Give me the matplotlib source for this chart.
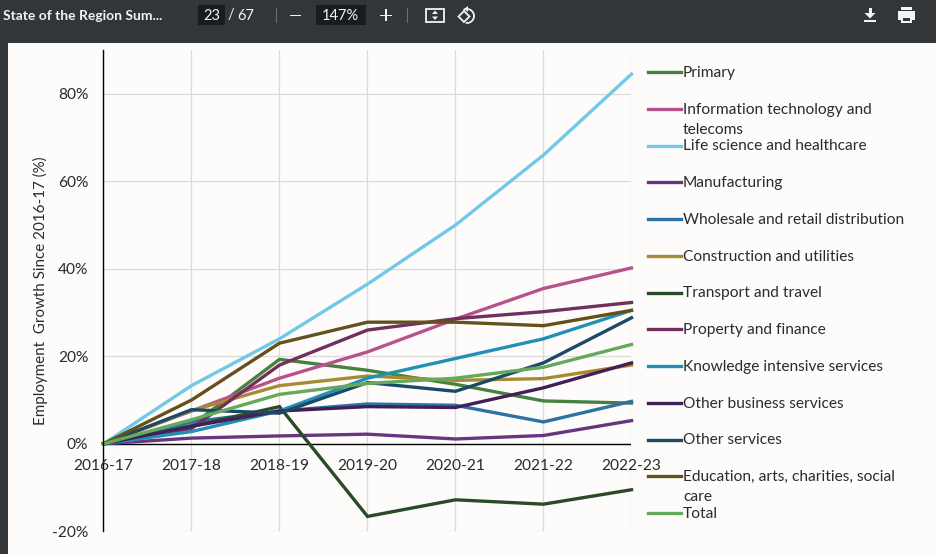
import matplotlib
matplotlib.use("Agg")
import matplotlib.pyplot as plt
from matplotlib.lines import Line2D
from matplotlib.patches import Rectangle, Arc, Polygon
from matplotlib.transforms import Affine2D

W, H = 937, 554
plt.rcParams['font.family'] = ['Lato', 'DejaVu Sans']

years = ['2016-17', '2017-18', '2018-19', '2019-20', '2020-21', '2021-22', '2022-23']
yticks = [-20, 0, 20, 40, 60, 80]

primary = [0, 4.2, 19.3, 16.8, 13.6, 9.8, 9.3]
it_telecoms = [0, 7.5, 15, 21, 28.5, 35.5, 40.2]
life_science = [0, 13.3, 24, 36.5, 50, 66, 84.5]
manufacturing = [0, 1.3, 1.8, 2.2, 1.1, 1.9, 5.3]
wholesale = [0, 5, 7.5, 9.1, 8.8, 5, 9.7]
construction = [0, 7.6, 13.3, 15.5, 14.5, 14.9, 18]
transport = [0, 4, 8.5, -16.6, -12.8, -13.8, -10.5]
property_fin = [0, 3.5, 18, 26, 28.6, 30.2, 32.3]
knowledge = [0, 2.8, 7.5, 15, 19.5, 24, 30.5]
other_business = [0, 4, 7.5, 8.5, 8.3, 12.8, 18.5]
other_services = [0, 7.8, 7, 14, 12, 18.5, 28.8]
education = [0, 10, 23, 27.8, 27.8, 27, 30.5]
total = [0, 5.5, 11.3, 13.8, 15, 17.5, 22.7]

series = [
    ('Primary', primary, '#47803f'),
    ('Information technology and\ntelecoms', it_telecoms, '#b8528c'),
    ('Life science and healthcare', life_science, '#72c8e8'),
    ('Manufacturing', manufacturing, '#67367f'),
    ('Wholesale and retail distribution', wholesale, '#2c73a3'),
    ('Construction and utilities', construction, '#a98a34'),
    ('Transport and travel', transport, '#2a4a28'),
    ('Property and finance', property_fin, '#702f5c'),
    ('Knowledge intensive services', knowledge, '#2190b5'),
    ('Other business services', other_business, '#431f57'),
    ('Other services', other_services, '#1b4a68'),
    ('Education, arts, charities, social\ncare', education, '#64501a'),
    ('Total', total, '#64a95c'),
]

bg = '#fdfcfb'
text_col = '#2b2b2b'
fig = plt.figure(figsize=(W / 100, H / 100), dpi=100, facecolor=bg)

# axes placed in pixels: 0% at y=443.8, -20% at y=531.3, top of axis at y=50
left, right, top, bottom = 103.5, 631.5, 50, 531.3
ax = fig.add_axes([left / W, 1 - bottom / H, (right - left) / W, (bottom - top) / H])
ax.set_facecolor('none')
ax.set_xlim(0, len(years) - 1)
ax.set_ylim(-20, (bottom - top) / 4.375 - 20)

ax.grid(True, color='#dcdad8', lw=0.9)
ax.set_axisbelow(True)
for s in ['top', 'right', 'bottom']:
    ax.spines[s].set_visible(False)
ax.spines['left'].set_linewidth(1.0)
ax.axhline(0, color='black', lw=1.0, zorder=1.5)

for name, vals, col in series:
    ax.plot(range(len(years)), vals, color=col, lw=2.4, solid_joinstyle='miter', clip_on=False)

ax.set_xticks(range(len(years)))
ax.set_xticklabels([])
ax.set_yticks(yticks)
ax.set_yticklabels([f'{v}%' for v in yticks])
ax.tick_params(length=0, labelsize=11.2, colors=text_col)
ax.tick_params(axis='y', pad=11)
# category labels sit just under the zero line
for i, year in enumerate(years):
    ax.annotate(year, (i, 0), xytext=(0, -22), textcoords='offset pixels',
                ha='center', va='center', fontsize=11.2, color=text_col)

fig.text(40.5 / W, 1 - 290.5 / H, 'Employment  Growth Since 2016-17 (%)', rotation=90,
         ha='center', va='center', fontsize=10.9, color=text_col)

# legend, drawn by hand because of its wrapped entries
for i, (name, vals, col) in enumerate(series):
    y = 72 + i * 36.75
    fig.add_artist(Line2D([648 / W, 681 / W], [1 - y / H, 1 - y / H], color=col, lw=2.4))
    for j, line in enumerate(name.split('\n')):
        fig.text(683 / W, 1 - (y + 5 + 20 * j) / H, line, ha='left', va='baseline',
                 fontsize=11.2, color=text_col)

# pdf viewer chrome, in pixels from the top left
px = Affine2D().scale(1, -1).translate(0, H)
chrome = '#323639'
light = '#f1f3f4'


def box(x, y, w, h, **kw):
    kw.setdefault('color', light)
    kw.setdefault('lw', 0)
    kw.setdefault('zorder', 7)
    fig.add_artist(Rectangle((x, y), w, h, transform=px, **kw))


def tri(points, color=light):
    fig.add_artist(Polygon(points, closed=True, color=color, lw=0, zorder=7, transform=px))


def bar_text(x, s, ha='center', size=10, weight='normal'):
    fig.text(x / W, 1 - 15.5 / H, s, color=light, ha=ha, va='center', fontsize=size,
             zorder=7, fontweight=weight)


box(0, 0, W, 43, color=chrome, zorder=5)
box(0, 0, 8, H, color=chrome, zorder=5)
box(198, 5, 27, 20, color='#191b1c', zorder=6)
box(316, 5, 50, 20, color='#191b1c', zorder=6)

bar_text(3, 'State of the Region Sum...', 'left', weight='bold')
bar_text(212, '23', size=10.5)
bar_text(231, '/', size=10.5)
bar_text(246, '67', size=10.5)
bar_text(340, '147%', size=10.5)
box(290, 14.5, 11, 1.6)
box(380, 14.5, 12, 1.6)
box(385.2, 9, 1.6, 12)
box(275.5, 8, 1, 15, color='#6b6f72')
box(406.5, 8, 1, 15, color='#6b6f72')

# fit to page
box(426, 8.5, 18, 13.5, fill=False, ec=light, lw=1.3, color=None)
tri([(435, 10.5), (432, 14), (438, 14)])
tri([(435, 20), (432, 16.5), (438, 16.5)])
# rotate
fig.add_artist(Polygon([(464, 11), (469.5, 16.5), (464, 22), (458.5, 16.5)], closed=True, fill=False,
                       ec=light, lw=1.3, zorder=7, transform=px))
fig.add_artist(Arc((467, 16), 14, 14, theta1=-120, theta2=100, ec=light, lw=1.3, zorder=7, transform=px))
tri([(464, 9), (468, 6), (468, 12)])
# download
box(868.5, 8, 3, 5)
tri([(864.5, 13), (875.5, 13), (870, 18.5)])
box(864, 20, 12, 1.6)
# print
box(901, 7, 11, 3)
box(898, 11, 17, 9)
box(901, 16, 11, 7)
box(903, 18, 7, 3, color=chrome, zorder=8)

fig.savefig('out.png', dpi=100, facecolor=bg)
